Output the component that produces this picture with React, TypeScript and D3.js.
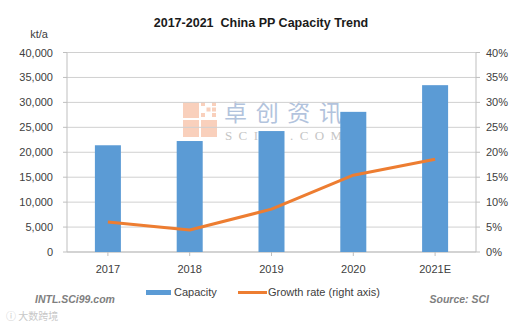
import React from "react";
import * as d3 from "d3";

const categories = ["2017", "2018", "2019", "2020", "2021E"];
const capacity = [21400, 22250, 24250, 28100, 33450];
const growth = [6.0, 4.4, 8.6, 15.4, 18.6];
const leftTicks = [0, 5000, 10000, 15000, 20000, 25000, 30000, 35000, 40000];
const rightTicks = [0, 5, 10, 15, 20, 25, 30, 35, 40];

const W = 527, H = 325;
const L = 67, R = 476, T = 52.5, B = 252;
const FONT = "'Liberation Sans', Arial, sans-serif";

export default function App() {
  const x = d3.scaleBand().domain(categories).range([L, R]).paddingInner(0).paddingOuter(0);
  const yL = d3.scaleLinear().domain([0, 40000]).range([B, T]);
  const yR = d3.scaleLinear().domain([0, 40]).range([B, T]);
  const bw = 26;
  const cx = (c: string) => (x(c) as number) + x.bandwidth() / 2;
  const line = d3.line<number>().x((_, i) => cx(categories[i])).y((d) => yR(d));
  const fmt = d3.format(",");
  return (
    <div style={{ position: "absolute", left: 0, top: 0 }}>
      <svg width={W} height={H} style={{ display: "block", background: "#fff" }}>
        {/* watermark */}
        <g opacity={0.6}>
          <rect x={183} y={102} width={16} height={16} fill="#f6b191" />
          <rect x={183} y={120} width={16} height={17} fill="#f6b191" />
          <rect x={201} y={120} width={16} height={17} fill="#f6b191" />
          {[[0,0],[2,0],[1,1],[2,1],[0,2],[2,2]].map(([i, j], k) => (
            <rect key={"s" + k} x={201 + i * 5.5} y={102 + j * 5.5} width={4} height={4} fill="#f6b191" />
          ))}
          <text x={224} y={121} fontSize={23} fill="#7f9cc7" fontFamily="'Noto Sans CJK SC', sans-serif" textLength={118}>卓创资讯</text>
          <text x={225} y={140} fontSize={13} fill="#a0a0a0" fontFamily="'Liberation Serif', serif" textLength={117}>SCI99.COM</text>
        </g>
        {/* title */}
        <text x={261} y={27} textAnchor="middle" fontFamily={FONT} fontSize={12.5} fontWeight="bold" fill="#1a1a1a" style={{ whiteSpace: "pre" }}>
          {"2017-2021  China PP Capacity Trend"}
        </text>
        <text x={39} y={38} textAnchor="middle" fontFamily={FONT} fontSize={11} fill="#404040">kt/a</text>
        {/* gridlines */}
        {leftTicks.map((t) => (
          <line key={t} x1={L} x2={R} y1={yL(t)} y2={yL(t)} stroke="#d0d0d0" strokeWidth={1} />
        ))}
        {/* axes */}
        <line x1={L} x2={L} y1={T} y2={B} stroke="#bfbfbf" />
        <line x1={R} x2={R} y1={T} y2={B} stroke="#bfbfbf" />
        <line x1={L} x2={R} y1={B} y2={B} stroke="#bfbfbf" />
        {leftTicks.map((t) => (
          <g key={"l" + t}>
            <line x1={L - 4} x2={L} y1={yL(t)} y2={yL(t)} stroke="#bfbfbf" />
            <text x={53} y={yL(t) + 4} textAnchor="end" fontFamily={FONT} fontSize={11} fill="#404040">{fmt(t)}</text>
          </g>
        ))}
        {rightTicks.map((t) => (
          <g key={"r" + t}>
            <line x1={R} x2={R + 4} y1={yR(t)} y2={yR(t)} stroke="#bfbfbf" />
            <text x={486} y={yR(t) + 4} textAnchor="start" fontFamily={FONT} fontSize={11} fill="#404040">{t}%</text>
          </g>
        ))}
        {categories.map((c) => (
          <g key={c}>
            <line x1={cx(c)} x2={cx(c)} y1={B} y2={B + 4} stroke="#bfbfbf" />
            <text x={cx(c)} y={273} textAnchor="middle" fontFamily={FONT} fontSize={11} fill="#404040">{c}</text>
          </g>
        ))}
        {/* bars */}
        {capacity.map((v, i) => (
          <rect key={i} x={cx(categories[i]) - bw / 2} y={yL(v)} width={bw} height={B - yL(v)} fill="#5b9bd5" />
        ))}
        {/* line */}
        <path d={line(growth) as string} fill="none" stroke="#ed7d31" strokeWidth={3} strokeLinejoin="round" />
        {/* legend */}
        <rect x={146} y={290} width={25} height={5} fill="#5b9bd5" />
        <text x={174} y={296} fontFamily={FONT} fontSize={11} fill="#404040">Capacity</text>
        <line x1={238} x2={267} y1={292.5} y2={292.5} stroke="#ed7d31" strokeWidth={3} />
        <text x={268} y={296} fontFamily={FONT} fontSize={11} fill="#404040">Growth rate (right axis)</text>
        {/* footer */}
        <text x={35} y={303} fontFamily={FONT} fontSize={10.5} fontWeight="bold" fontStyle="italic" fill="#7f7f7f">INTL.SCi99.com</text>
        <text x={489} y={303} textAnchor="end" fontFamily={FONT} fontSize={10.5} fontWeight="bold" fontStyle="italic" fill="#7f7f7f">Source: SCI</text>
        <text x={6} y={320} fontFamily="'Noto Sans CJK SC', sans-serif" fontSize={10} fill="#c8c8c8">ⓘ 大数跨境</text>
      </svg>
    </div>
  );
}
